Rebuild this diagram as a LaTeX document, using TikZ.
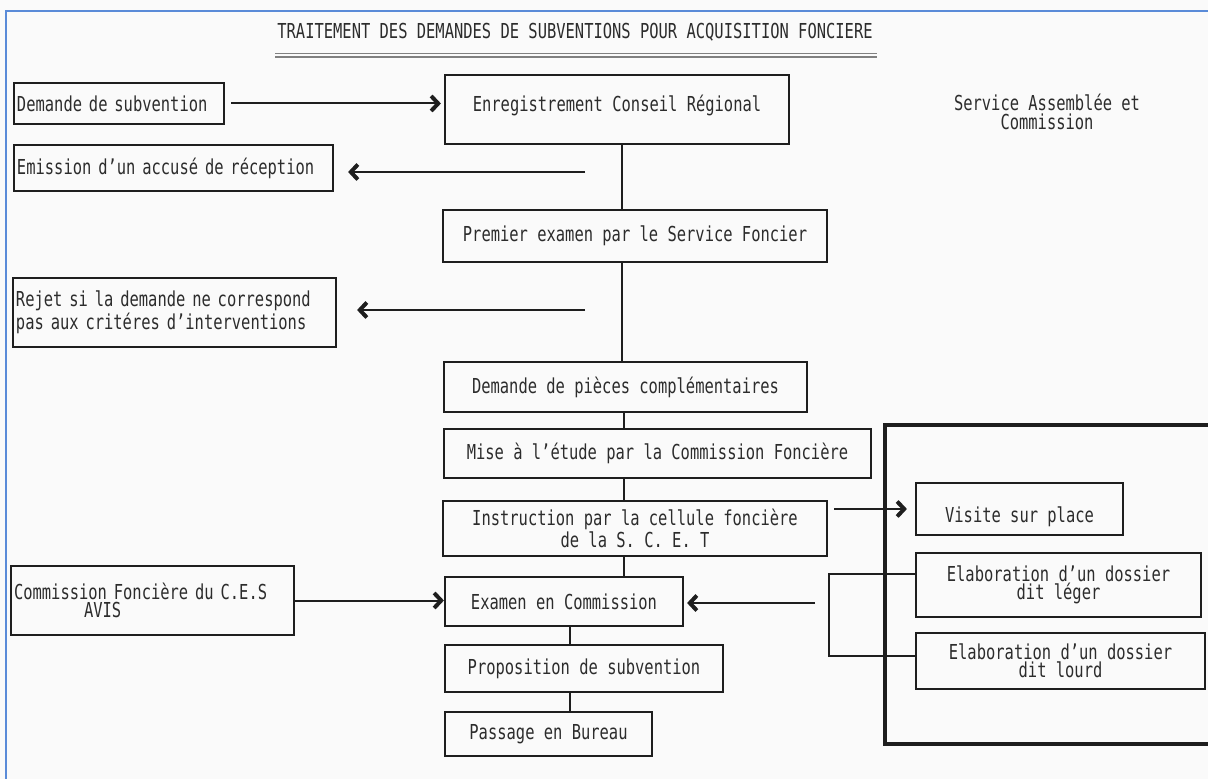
\documentclass[tikz,border=0pt]{standalone}
\usepackage{fontspec}
\setmainfont{DejaVu Sans Mono}[FakeStretch=0.75]
\usetikzlibrary{arrows.meta}
\definecolor{ink}{HTML}{1E1E1E}
\definecolor{txt}{HTML}{2C2C2C}
\definecolor{paper}{HTML}{FAFAFA}
\definecolor{frameblue}{HTML}{5A8BD8}
\begin{document}
\begin{tikzpicture}[x=0.5pt,y=-0.5pt,
  every node/.style={font=\fontsize{10.3pt}{9.2pt}\selectfont, text=txt},
  bx/.style={draw=ink, line width=1.1pt, inner sep=1.5pt},
  lbx/.style={bx, align=left},
  cbx/.style={bx, align=center},
  arr/.style={draw=ink, line width=1pt, -{Straight Barb[length=3.5pt,width=7.5pt,line width=2pt]}},
  ln/.style={draw=ink, line width=1pt}]
\useasboundingbox (0,0) rectangle (1208,779);
\fill[paper] (0,0) rectangle (1208,779);
\draw[frameblue, line width=1.3pt] (6,779) -- (6,11) -- (1208,11);

% title
\node (title) at (575,32) {TRAITEMENT DES DEMANDES DE SUBVENTIONS POUR ACQUISITION FONCIERE};
\draw[gray, line width=0.6pt] (275,53.5) -- (877,53.5);
\draw[gray, line width=0.6pt] (275,57) -- (877,57);

% left column
\node[lbx, text width=102pt, minimum height=20.5pt] (dem) at (119,103.5) {Demande de subvention};
\node[lbx, text width=156.5pt, minimum height=23pt] (emi) at (173.5,168) {Emission d’un accusé de réception};
\node[lbx, text width=158.5pt, minimum height=34.5pt] (rejet) at (174.5,312.5) {Rejet si la demande ne correspond\\pas aux critéres d’interventions};
\node[lbx, text width=138.5pt, minimum height=34.5pt] (cfces) at (152.5,600.5) {Commission Foncière du C.E.S\\\hspace*{35pt}AVIS};

% central column
\node[cbx, minimum width=172pt, minimum height=34.5pt] (enr) at (617,109.5) {\raisebox{2pt}[\height][\depth]{Enregistrement Conseil Régional}};
\node[cbx, minimum width=192pt, minimum height=26pt] (prem) at (635,236) {Premier examen par le Service Foncier};
\node[cbx, minimum width=181.5pt, minimum height=25pt] (piec) at (625.5,387) {Demande de pièces complémentaires};
\node[cbx, minimum width=213.5pt, minimum height=24.5pt] (mise) at (657.5,453.5) {Mise à l’étude par la Commission Foncière};
\node[cbx, minimum width=192pt, minimum height=27.5pt] (instr) at (635,528.5) {Instruction par la cellule foncière\\de la S. C. E. T};
\node[cbx, minimum width=119pt, minimum height=24.5pt] (exam) at (564,601.5) {Examen en Commission};
\node[cbx, minimum width=139pt, minimum height=23.5pt] (prop) at (584,668.5) {Proposition de subvention};
\node[cbx, minimum width=103.5pt, minimum height=22pt] (pass) at (548.5,734) {Passage en Bureau};

% right column
\node[align=center] (svc) at (1047,112) {Service Assemblée et\\Commission};
\draw[draw=ink, line width=1.6pt] (1208,425) -- (885,425) -- (885,744) -- (1208,744);
\node[cbx, minimum width=103.5pt, minimum height=26pt] (visite) at (1019.5,509) {\raisebox{-4pt}[\height][\depth]{Visite sur place}};
\node[cbx, minimum width=142.5pt, minimum height=32pt] (leger) at (1058.5,585) {Elaboration d’un dossier\\dit léger};
\node[cbx, minimum width=144.5pt, minimum height=28pt] (lourd) at (1060.5,661) {Elaboration d’un dossier\\dit lourd};

% vertical links
\coordinate (ax) at (622,0);
\draw[ln] (ax |- enr.south) -- (ax |- prem.north);
\draw[ln] (ax |- prem.south) -- (ax |- piec.north);
\coordinate (axb) at (624,0);
\draw[ln] (axb |- piec.south) -- (axb |- mise.north);
\draw[ln] (axb |- mise.south) -- (axb |- instr.north);
\draw[ln] (axb |- instr.south) -- (axb |- exam.north);
\coordinate (axc) at (570,0);
\draw[ln] (axc |- exam.south) -- (axc |- prop.north);
\draw[ln] (axc |- prop.south) -- (axc |- pass.north);

% arrows
\draw[arr] ([xshift=3pt]dem.east) -- ([xshift=-1.5pt]dem.east -| enr.west);
\coordinate (e1) at (585,172);
\draw[arr, shorten >=7pt] (e1) -- (e1 -| emi.east);
\coordinate (r1) at (585,310);
\draw[arr, shorten >=10pt] (r1) -- (r1 -| rejet.east);
\draw[arr] (cfces.east) -- (cfces.east -| exam.west);
\draw[arr] ([xshift=3pt]instr.east |- visite.west) -- ([xshift=-4pt]visite.west);
\coordinate (x1) at (815,603);
\draw[arr, shorten >=1.5pt] (x1) -- (x1 -| exam.east);
\draw[ln] ([yshift=5.5pt]leger.west) -- ++(-86,0) |- ([yshift=2.5pt]lourd.west);
\end{tikzpicture}
\end{document}
